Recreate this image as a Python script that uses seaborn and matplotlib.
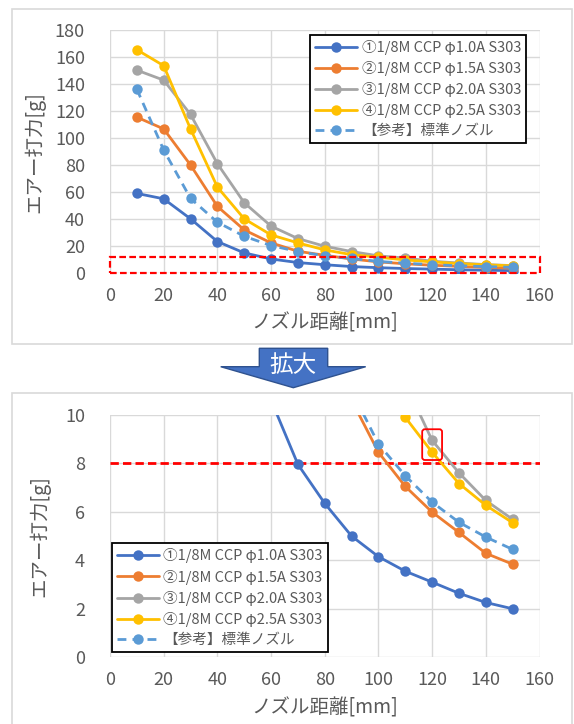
import matplotlib
matplotlib.use("Agg")
import matplotlib.pyplot as plt
from matplotlib import patches
import seaborn as sns
import pandas as pd

# ---------------- data ----------------
distance_mm = [10, 20, 30, 40, 50, 60, 70, 80, 90, 100, 110, 120, 130, 140, 150]
s1_phi10 = [59.1, 55.1, 40.3, 23.5, 15.1, 10.6, 7.95, 6.34, 4.99, 4.14, 3.54, 3.09, 2.63, 2.25, 1.99]
s2_phi15 = [115.5, 106.8, 80.1, 49.5, 32.1, 22.5, 16.3, 13.3, 10.6, 8.45, 7.04, 5.98, 5.14, 4.28, 3.83]
s3_phi20 = [150.3, 142.9, 117.5, 81.1, 52.2, 34.9, 25.7, 20.0, 16.1, 12.9, 11.3, 8.94, 7.60, 6.46, 5.68]
s4_phi25 = [165.4, 153.6, 106.8, 63.8, 40.3, 28.4, 22.5, 17.3, 13.8, 11.9, 9.89, 8.45, 7.16, 6.26, 5.54]
ref_std = [136.2, 91.2, 55.4, 37.8, 27.4, 20.5, 16.1, 12.9, 11.0, 8.79, 7.48, 6.39, 5.56, 4.95, 4.44]

series_labels = ["①1/8M CCP φ1.0A S303", "②1/8M CCP φ1.5A S303",
                 "③1/8M CCP φ2.0A S303", "④1/8M CCP φ2.5A S303", "【参考】標準ノズル"]
series_colors = ["#4472C4", "#ED7D31", "#A5A5A5", "#FFC000", "#5B9BD5"]
series_values = [s1_phi10, s2_phi15, s3_phi20, s4_phi25, ref_std]

x_ticks = [0, 20, 40, 60, 80, 100, 120, 140, 160]
top_y_ticks = [0, 20, 40, 60, 80, 100, 120, 140, 160, 180]
bot_y_ticks = [0, 2, 4, 6, 8, 10]
x_label = "ノズル距離[mm]"
y_label = "エアー打力[g]"
arrow_text = "拡大"
threshold = 8
zoom_box_top = 11.7
highlight_box = (116.3, 8.13, 7.4, 1.27)

# ---------------- style ----------------
sns.set_style("white")
plt.rcParams["font.family"] = ["Noto Sans CJK JP", "DejaVu Sans"]

W, H = 574, 724
fig = plt.figure(figsize=(W / 100, H / 100), dpi=100)
fig.patch.set_facecolor("white")


def fx(x):
    return x / W


def fy(y):
    return 1 - y / H


TXT = "#595959"
GRID = "#D9D9D9"

df = pd.DataFrame({
    "x": distance_mm * len(series_labels),
    "y": sum(series_values, []),
    "series": [lab for lab in series_labels for _ in distance_mm],
})


def draw_axes(rect, yticks, ylim, ylab_x, xlab_y):
    ax = fig.add_axes(rect)
    for lab, col in zip(series_labels, series_colors):
        sub = df[df["series"] == lab]
        dashed = lab.startswith("【")
        sns.lineplot(data=sub, x="x", y="y", ax=ax, color=col, marker="o",
                     markersize=7.5, markeredgewidth=0, linewidth=2.0,
                     linestyle=(0, (3.2, 2.2)) if dashed else "-",
                     label=lab, clip_on=True)
    ax.set_xlim(0, 160)
    ax.set_ylim(*ylim)
    ax.set_xticks(x_ticks)
    ax.set_yticks(yticks)
    ax.grid(True, color=GRID, linewidth=1.0)
    ax.set_axisbelow(True)
    for sp in ax.spines.values():
        sp.set_visible(False)
    ax.tick_params(axis="both", length=0, labelsize=13, labelcolor=TXT)
    ax.tick_params(axis="y", pad=18)
    ax.tick_params(axis="x", pad=10)
    ax.set_xlabel(x_label, fontsize=14, color=TXT)
    ax.set_ylabel(y_label, fontsize=14, color=TXT)
    ax.xaxis.label.set_va("center")
    ax.yaxis.label.set_va("center")
    ax.xaxis.set_label_coords(0.5, xlab_y)
    ax.yaxis.set_label_coords(ylab_x, 0.5)
    return ax


# panels (light gray frames)
fig.add_artist(patches.Rectangle((fx(12), fy(344)), fx(572) - fx(12), fy(9) - fy(344),
                                 transform=fig.transFigure, fill=False, edgecolor=GRID, lw=1.2))
fig.add_artist(patches.Rectangle((fx(12), fy(730)), fx(572) - fx(12), fy(393) - fy(730),
                                 transform=fig.transFigure, fill=False, edgecolor=GRID, lw=1.2))

legend_kw = dict(loc="upper left", borderaxespad=0, fontsize=10.5,
                 frameon=True, fancybox=False, edgecolor="black", framealpha=1,
                 handlelength=2.9, handletextpad=0.3, labelspacing=0.42,
                 borderpad=0.35, labelcolor=TXT, bbox_transform=fig.transFigure)

# top chart
ax1 = draw_axes([fx(110), fy(273.3), fx(539.5) - fx(110), fy(30) - fy(273.3)],
                top_y_ticks, (0, 180), (35 - 110) / 429.5, (273.3 - 323) / 243.3)
ax1.add_patch(patches.Rectangle((0, 0), 160, zoom_box_top, fill=False, edgecolor="#FF0000",
                                lw=1.6, linestyle=(0, (3, 1.5)), clip_on=False, zorder=5))
leg1 = ax1.legend(bbox_to_anchor=(fx(310), fy(34.7)), **legend_kw)
leg1.get_frame().set_linewidth(1.3)

# bottom chart
ax2 = draw_axes([fx(110), fy(657), fx(539.5) - fx(110), fy(414.7) - fy(657)],
                bot_y_ticks, (0, 10), (40 - 110) / 429.5, (657 - 708) / 242.3)
ax2.axhline(threshold, color="#FF0000", lw=2.0, linestyle=(0, (3, 1.5)), zorder=1.5)
hx, hy, hw, hh = highlight_box
ax2.add_patch(patches.FancyBboxPatch((hx, hy), hw, hh,
                                     boxstyle="round,pad=0,rounding_size=1.0",
                                     mutation_aspect=0.111, fill=False,
                                     edgecolor="#FF0000", lw=1.3, zorder=5))
leg2 = ax2.legend(bbox_to_anchor=(fx(111.7), fy(543.3)), **legend_kw)
leg2.get_frame().set_linewidth(1.3)

# arrow "拡大"
arrow_pts = [(259.3, 348.3), (327.7, 348.3), (327.7, 366.7), (365.7, 366.7),
             (293.3, 387.7), (220.7, 366.7), (259.3, 366.7)]
fig.add_artist(patches.Polygon([(fx(a), fy(b)) for a, b in arrow_pts], closed=True,
                               transform=fig.transFigure, facecolor="#4472C4",
                               edgecolor="#2F528F", lw=1.0))
fig.text(fx(293), fy(366), arrow_text, color="white", fontsize=17,
         ha="center", va="center")

fig.savefig("out.png", dpi=100, facecolor="white")
